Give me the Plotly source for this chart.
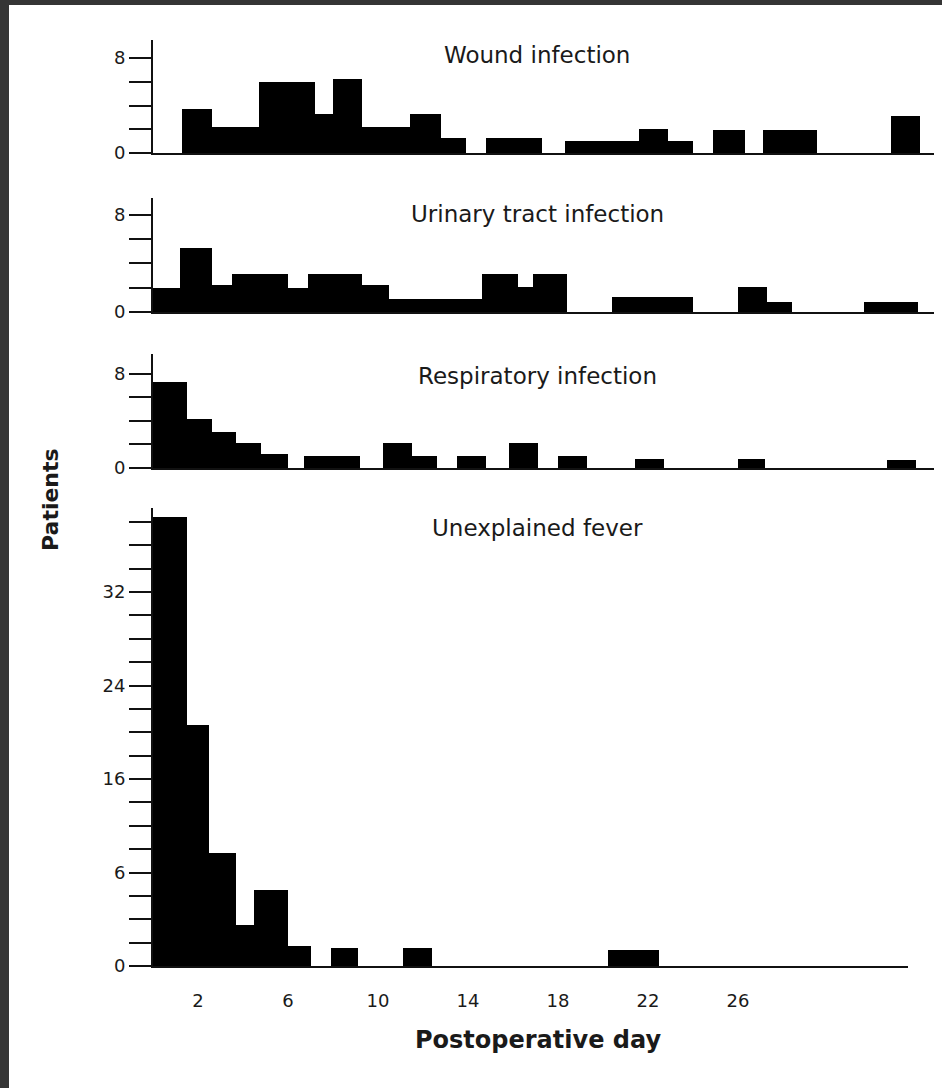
import plotly.graph_objects as go

# ---------------- data ----------------
# bin edges in postoperative days and patient counts per panel
wound_start = [1.3, 2.6, 4.7, 7.2, 8.0, 9.3, 11.4, 12.8, 14.8, 18.3, 21.6, 22.9, 24.9, 27.1, 32.8]
wound_end   = [2.6, 4.7, 7.2, 8.0, 9.3, 11.4, 12.8, 13.9, 17.3, 21.6, 22.9, 24.0, 26.3, 29.5, 34.1]
wound_n     = [3.7, 2.2, 6.0, 3.3, 6.2, 2.2, 3.3, 1.3, 1.3, 1.0, 2.0, 1.0, 1.9, 1.9, 3.1]

urinary_start = [0.0, 1.2, 2.6, 3.5, 6.0, 6.9, 9.3, 10.5, 14.6, 16.2, 16.9, 20.4, 26.0, 27.3, 31.6]
urinary_end   = [1.2, 2.6, 3.5, 6.0, 6.9, 9.3, 10.5, 14.6, 16.2, 16.9, 18.4, 24.0, 27.3, 28.4, 34.0]
urinary_n     = [2.0, 5.3, 2.2, 3.1, 2.0, 3.1, 2.2, 1.05, 3.1, 2.1, 3.1, 1.2, 2.1, 0.8, 0.8]

resp_start = [0.0, 1.5, 2.6, 3.7, 4.8, 6.7, 10.2, 11.5, 13.5, 15.8, 18.0, 21.4, 26.0, 32.6]
resp_end   = [1.5, 2.6, 3.7, 4.8, 6.0, 9.2, 11.5, 12.6, 14.8, 17.1, 19.3, 22.7, 27.2, 33.9]
resp_n     = [7.3, 4.2, 3.1, 2.1, 1.2, 1.0, 2.1, 1.0, 1.0, 2.1, 1.0, 0.8, 0.8, 0.7]

fever_start = [0.0, 1.5, 2.5, 3.7, 4.5, 6.0, 7.9, 11.1, 20.2]
fever_end   = [1.5, 2.5, 3.7, 4.5, 6.0, 7.0, 9.1, 12.4, 22.5]
fever_n     = [38.4, 20.6, 9.7, 3.5, 6.5, 1.7, 1.5, 1.5, 1.4]

panel_titles = ["Wound infection", "Urinary tract infection",
                "Respiratory infection", "Unexplained fever"]

small_tickvals = [0, 2, 4, 6, 8]
small_ticktext = ["0", "", "", "", "8"]
fever_tickvals = list(range(0, 40, 2))
fever_labels = {0: "0", 8: "6", 16: "16", 24: "24", 32: "32"}
day_ticks = [2, 6, 10, 14, 18, 22, 26]
x_title = "Postoperative day"
y_title = "Patients"

# ---------------- layout geometry ----------------
W, H = 942, 1088
ML, MR, MT, MB = 153, 8, 40, 122
PW = W - ML - MR
PH = H - MT - MB
FONT = "DejaVu Sans"
INK = "#1a1a1a"


def py2paper(py):
    return (H - MB - py) / PH


def px2paper(px):
    return (px - ML) / PW


panels = [
    (wound_start, wound_end, wound_n, (153, 40), 9.52),
    (urinary_start, urinary_end, urinary_n, (312, 198), 9.40),
    (resp_start, resp_end, resp_n, (468, 354), 9.70),
    (fever_start, fever_end, fever_n, (966, 508), 39.19),
]

fig = go.Figure()
for i, (s, e, n, (pb, pt), ytop) in enumerate(panels):
    k = "" if i == 0 else str(i + 1)
    fig.add_trace(go.Bar(
        x=[(a + b) / 2 for a, b in zip(s, e)],
        width=[b - a for a, b in zip(s, e)],
        y=n,
        marker=dict(color="black", line=dict(width=0)),
        xaxis="x" + k, yaxis="y" + k,
        showlegend=False, hoverinfo="skip",
    ))
    last = i == 3
    xdom = [0, (908 - ML) / PW] if last else [0, 1]
    xrange = [0, (908 - ML) / 22.5] if last else [0, PW / 22.5]
    fig.update_layout(**{
        "xaxis" + k: dict(
            domain=xdom, range=xrange, anchor="y" + k,
            showline=True, linecolor="#111", linewidth=2,
            showgrid=False, zeroline=False,
            tickvals=day_ticks if last else [],
            showticklabels=last,
            ticks="outside" if last else "", ticklen=17,
            tickcolor="rgba(0,0,0,0)",
            tickfont=dict(family=FONT, size=18, color=INK),
        ),
        "yaxis" + k: dict(
            domain=[py2paper(pb), py2paper(pt)], range=[0, ytop],
            anchor="x" + k,
            showline=True, linecolor="#111", linewidth=2,
            showgrid=False, zeroline=False,
            ticks="outside", ticklen=22, tickwidth=2, tickcolor="#111",
            tickvals=fever_tickvals if last else small_tickvals,
            ticktext=[fever_labels.get(v, "") for v in fever_tickvals] if last else small_ticktext,
            tickfont=dict(family=FONT, size=18, color=INK),
        ),
    })

title_y = [55, 214, 376, 528]
annotations = []
for t, ty in zip(panel_titles, title_y):
    annotations.append(dict(
        text=t, x=px2paper(537), y=py2paper(ty), xref="paper", yref="paper",
        showarrow=False, xanchor="center", yanchor="middle",
        font=dict(family=FONT, size=23, color=INK),
    ))
annotations.append(dict(
    text="<b>" + y_title + "</b>", x=px2paper(50), y=py2paper(500),
    xref="paper", yref="paper", showarrow=False, textangle=-90,
    xanchor="center", yanchor="middle",
    font=dict(family=FONT, size=22, color=INK),
))
annotations.append(dict(
    text="<b>" + x_title + "</b>", x=px2paper(538), y=py2paper(1040),
    xref="paper", yref="paper", showarrow=False,
    xanchor="center", yanchor="middle",
    font=dict(family=FONT, size=24, color=INK),
))

border = "#353535"
shapes = [
    dict(type="rect", xref="paper", yref="paper", layer="above",
         x0=px2paper(-5), x1=px2paper(9), y0=py2paper(H + 5), y1=py2paper(-5),
         fillcolor=border, line=dict(width=0)),
    dict(type="rect", xref="paper", yref="paper", layer="above",
         x0=px2paper(-5), x1=px2paper(W + 5), y0=py2paper(5), y1=py2paper(-5),
         fillcolor=border, line=dict(width=0)),
]

fig.update_layout(
    width=W, height=H,
    margin=dict(l=ML, r=MR, t=MT, b=MB, pad=0),
    paper_bgcolor="white", plot_bgcolor="white",
    annotations=annotations, shapes=shapes,
    bargap=0, showlegend=False,
)

fig.write_html(
    "out.html",
    config={"displayModeBar": False},
    post_script="document.body.style.margin='0';document.body.style.overflow='hidden';",
)
